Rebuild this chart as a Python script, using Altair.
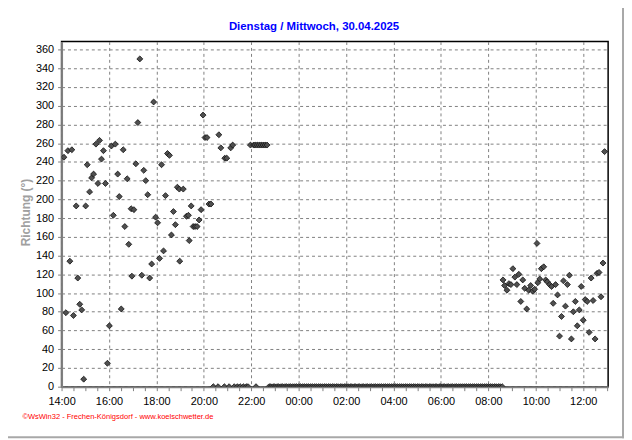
import altair as alt
import pandas as pd

# ---- data (wind direction in degrees) ----
# Tuesday 29.04.2025 afternoon / evening
day1_times = ["14:06", "14:11", "14:16", "14:21", "14:26", "14:30", "14:37", "14:41", "14:46", "14:51",
              "14:56", "15:01", "15:05", "15:11", "15:16", "15:21", "15:27", "15:32", "15:36", "15:41",
              "15:46", "15:51", "15:56", "16:01", "16:06", "16:11", "16:16", "16:22", "16:26", "16:31",
              "16:36", "16:40", "16:46", "16:50", "16:56", "16:58", "17:03", "17:08", "17:13", "17:18",
              "17:23", "17:28", "17:33", "17:38", "17:43", "17:48", "17:53", "17:58", "18:03", "18:08",
              "18:13", "18:18", "18:23", "18:28", "18:33", "18:38", "18:43", "18:48", "18:53", "18:58",
              "18:59", "19:08", "19:16", "19:21", "19:23", "19:28", "19:33", "19:38", "19:43", "19:48",
              "19:53", "19:58", "20:03", "20:08", "20:13", "20:18", "20:38", "20:43", "20:53", "20:58",
              "21:08", "21:13", "21:58", "22:06", "22:10", "22:15", "22:20", "22:25", "22:30", "22:35",
              "22:40"]
day1_dirs = [245, 79, 252, 134, 253, 76, 193, 116, 88, 82,
             8, 193, 237, 208, 223, 227, 259, 217, 263, 243,
             252, 217, 25, 65, 257, 183, 259, 227, 203, 83,
             253, 171, 222, 152, 190, 118, 189, 238, 282, 350,
             119, 231, 220, 205, 116, 131, 304, 181, 175, 137,
             237, 145, 204, 249, 247, 162, 187, 173, 213, 211,
             134, 211, 182, 183, 156, 193, 171, 171, 171, 178,
             189, 290, 266, 266, 195, 195, 269, 255, 244, 244,
             255, 258, 258, 258, 258, 258, 258, 258, 258, 258,
             258]

# isolated calm readings (0°) in the evening of day 1
calm1_times = ["20:24", "20:36", "20:52", "21:04", "21:17", "21:25", "21:32", "21:40", "21:47", "21:52", "22:12"]

# continuous calm spell (0°), recorded every 5 minutes
calm_start = "2025-04-29 22:45"
calm_end = "2025-04-30 08:35"

# Wednesday 30.04.2025 morning
day2_times = ["08:37", "08:41", "08:47", "08:52", "08:57", "09:02", "09:07", "09:12", "09:17", "09:22",
              "09:27", "09:32", "09:37", "09:42", "09:47", "09:52", "09:57", "10:03", "10:05", "10:10",
              "10:14", "10:20", "10:25", "10:29", "10:35", "10:40", "10:44", "10:50", "10:55", "11:00",
              "11:05", "11:10", "11:15", "11:20", "11:25", "11:30", "11:35", "11:40", "11:45", "11:50",
              "11:55", "12:00", "12:05", "12:10", "12:15", "12:20", "12:25", "12:30", "12:35", "12:40",
              "12:45", "12:50", "12:54"]
day2_dirs = [114, 108, 103, 110, 109, 126, 117, 109, 120, 91,
             114, 105, 83, 103, 108, 102, 104, 153, 111, 115,
             126, 128, 114, 112, 109, 107, 89, 109, 98, 54,
             75, 113, 86, 109, 119, 51, 80, 91, 65, 82,
             107, 71, 93, 91, 58, 116, 92, 51, 121, 122,
             96, 132, 251]

y_ticks = list(range(0, 361, 20))

# ---- table: hours since 29.04. 14:00 as a numeric axis ----
def hours_since_start(day, hhmm):
    h, m = hhmm.split(":")
    return (day - 29) * 24 + int(h) + int(m) / 60 - 14

calm_range = pd.date_range(calm_start, calm_end, freq="5min")
t_vals = ([hours_since_start(29, t) for t in day1_times]
          + [hours_since_start(29, t) for t in calm1_times]
          + [hours_since_start(d.day, d.strftime("%H:%M")) for d in calm_range]
          + [hours_since_start(30, t) for t in day2_times])
dirs = day1_dirs + [0] * len(calm1_times) + [0] * len(calm_range) + day2_dirs
df = pd.DataFrame({"t": t_vals, "richtung": dirs})

# x ticks every 30 minutes, labelled every 2 hours
x_ticks = [i * 0.5 for i in range(0, 47)]

FONT = "Liberation Sans"
GRAY = "#808080"
major = "datum.value % 2 == 0"

x_scale = alt.Scale(domain=[0, 23.05], nice=False, zero=False)
y_scale = alt.Scale(domain=[0, 368.6], nice=False, zero=False)

points = alt.Chart(df).mark_point(
    shape="diamond", size=36, filled=True, fill="#505050", stroke="#101010",
    strokeWidth=0.8, opacity=1, clip=True
).encode(
    x=alt.X("t:Q", scale=x_scale,
            axis=alt.Axis(values=x_ticks,
                          labelExpr=f"{major} ? pad(floor((datum.value + 14) % 24), 2, '0', 'left') + ':00' : ''",
                          title="©WsWin32 - Frechen-Königsdorf - www.koelschwetter.de",
                          titleColor="#ff0000", titleFont=FONT, titleFontSize=7.6,
                          titleFontWeight="normal", titleX=-40, titleY=30,
                          titleAlign="left", titleBaseline="middle", titleAngle=0,
                          labelFont=FONT, labelFontSize=11, labelColor="#000000",
                          labelPadding=5, tickSize=4, tickColor=GRAY, tickWidth=1,
                          domainColor=GRAY, domainWidth=2, labelOverlap=False,
                          grid=True, gridColor=GRAY, gridDash=[3, 3], gridWidth=1,
                          gridOpacity=alt.condition(major, alt.value(1), alt.value(0)),
                          labelFlush=False)),
    y=alt.Y("richtung:Q", scale=y_scale,
            axis=alt.Axis(values=y_ticks, title="Richtung (°)",
                          titleColor="#a0a0a0", titleFont=FONT, titleFontSize=12,
                          titleFontWeight="bold", titleX=-36, titleY=172,
                          titleAngle=270, titleAlign="center", titleBaseline="middle",
                          labelFont=FONT, labelFontSize=11, labelColor="#000000",
                          labelPadding=4, tickSize=4, tickColor=GRAY, tickWidth=1,
                          domainColor=GRAY, domainWidth=2,
                          grid=True, gridColor=GRAY, gridDash=[3, 3], gridWidth=1)),
)

frame_df = pd.DataFrame({"k": [0]})
frame_right = alt.Chart(frame_df).mark_rule(color="#a8a8a8", strokeWidth=2).encode(
    x=alt.value(566), y=alt.value(-40), y2=alt.value(400))
frame_bottom = alt.Chart(frame_df).mark_rule(color="#a8a8a8", strokeWidth=2).encode(
    x=alt.value(-62), x2=alt.value(567), y=alt.value(399))

chart = alt.layer(points, frame_right, frame_bottom).properties(
    width=551, height=348,
    autosize=alt.AutoSizeParams(type="none"),
    padding={"left": 54, "top": 32, "right": 16, "bottom": 52},
    title=alt.TitleParams("Dienstag / Mittwoch, 30.04.2025", color="#0000ff",
                          font=FONT, fontSize=11.5, fontWeight="bold",
                          anchor="middle", dx=-21, offset=0, dy=32),
    background="#ffffff",
).configure_view(stroke="#000000", strokeWidth=1.5)

chart.save("out.html", embed_options={"renderer": "svg", "actions": False})
